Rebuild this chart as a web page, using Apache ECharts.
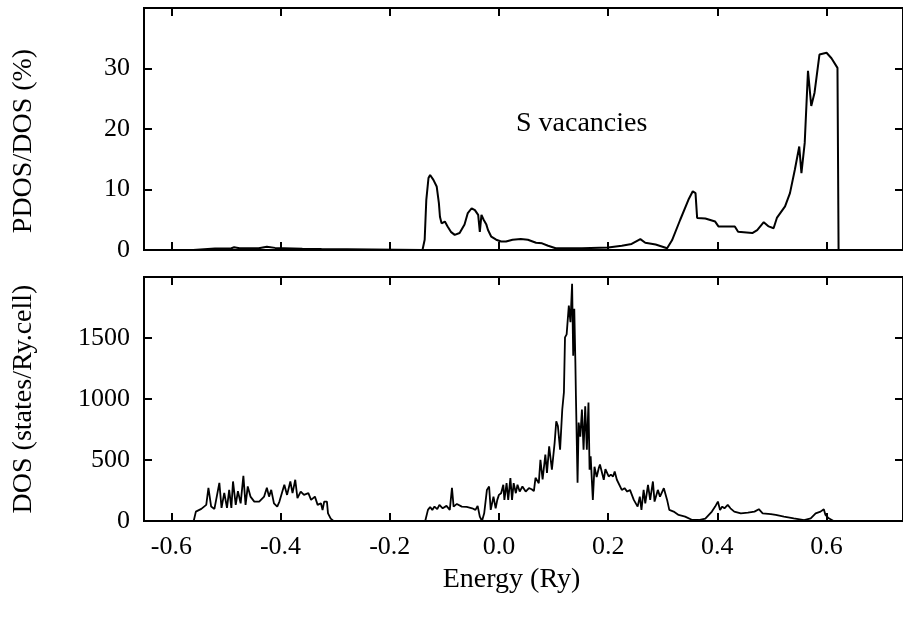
<!DOCTYPE html>
<html>
<head>
<meta charset="utf-8">
<script src="https://cdn.jsdelivr.net/npm/echarts@6/dist/echarts.min.js"></script>
<style>
  html, body { margin: 0; padding: 0; background: #fff; }
  #box { width: 903px; height: 617px; }
</style>
</head>
<body>
<div id="box"></div>
<script>
// energy ticks (Ry)
const xTicks = [-0.6, -0.4, -0.2, 0.0, 0.2, 0.4, 0.6];

// upper panel: PDOS/DOS (%) for S vacancies
const pdosE = [-0.65, -0.56, -0.557, -0.52, -0.49, -0.485, -0.475, -0.44, -0.425, -0.41, -0.36, -0.325, -0.322,
  -0.14, -0.136, -0.133, -0.129, -0.126, -0.12, -0.114, -0.11, -0.108, -0.105, -0.099, -0.094, -0.088, -0.081,
  -0.072, -0.063, -0.057, -0.05, -0.044, -0.038, -0.035, -0.032, -0.028, -0.023, -0.02, -0.014, -0.005, 0.004,
  0.013, 0.025, 0.04, 0.053, 0.068, 0.079, 0.09, 0.104, 0.152, 0.2, 0.225, 0.243, 0.259, 0.268, 0.287, 0.308,
  0.317, 0.332, 0.347, 0.355, 0.36, 0.363, 0.378, 0.396, 0.402, 0.432, 0.438, 0.464, 0.473, 0.485, 0.494, 0.503,
  0.509, 0.524, 0.533, 0.542, 0.55, 0.554, 0.56, 0.566, 0.572, 0.578, 0.587, 0.6, 0.609, 0.62, 0.622, 0.74];
const pdosV = [0, 0, 0.2, 0.25, 0.3, 0.45, 0.3, 0.3, 0.55, 0.35, 0.2, 0.15, 0,
  0, 1.7, 8.3, 11.9, 12.4, 11.6, 10.5, 7.8, 5.5, 4.4, 4.7, 3.9, 3.0, 2.5,
  2.8, 4.2, 6.1, 6.9, 6.6, 5.8, 3.0, 5.8, 5.0, 4.2, 3.3, 2.2, 1.7, 1.4,
  1.4, 1.7, 1.8, 1.7, 1.2, 1.1, 0.7, 0.3, 0.3, 0.4, 0.7, 1.0, 1.8, 1.2, 0.9, 0.3,
  1.6, 5.0, 8.3, 9.7, 9.4, 5.3, 5.2, 4.7, 3.9, 3.9, 3.0, 2.8, 3.3, 4.6, 3.9, 3.6,
  5.3, 7.2, 9.4, 13.3, 17.1, 12.7, 17.7, 29.6, 23.8, 26.0, 32.3, 32.6, 31.7, 30.1, 0, 0];

// lower panel: total DOS (states/Ry.cell)
const dosE = [-0.65, -0.559, -0.555, -0.545, -0.536, -0.532, -0.527, -0.521, -0.512, -0.508, -0.503, -0.498,
  -0.494, -0.49, -0.487, -0.482, -0.478, -0.473, -0.468, -0.464, -0.46, -0.455, -0.448, -0.439, -0.43, -0.425,
  -0.421, -0.417, -0.412, -0.406, -0.402, -0.393, -0.388, -0.382, -0.378, -0.373, -0.369, -0.363, -0.357,
  -0.349, -0.344, -0.337, -0.332, -0.326, -0.323, -0.32, -0.315, -0.313, -0.308, -0.303,
  -0.135, -0.13, -0.126, -0.122, -0.118, -0.113, -0.109, -0.103, -0.096, -0.09, -0.086, -0.083, -0.077, -0.068,
  -0.059, -0.049, -0.043, -0.039, -0.035, -0.031, -0.027, -0.022, -0.018, -0.015, -0.01, -0.006, -0.003, 0.0,
  0.004, 0.008, 0.01, 0.014, 0.017, 0.021, 0.024, 0.027, 0.031, 0.034, 0.038, 0.043, 0.049, 0.055, 0.06, 0.064,
  0.067, 0.073, 0.076, 0.08, 0.085, 0.088, 0.092, 0.097, 0.102, 0.105, 0.108, 0.112, 0.116, 0.119, 0.121, 0.124,
  0.128, 0.131, 0.134, 0.136, 0.138, 0.14, 0.141, 0.144, 0.146, 0.149, 0.152, 0.155, 0.158, 0.161, 0.164, 0.166,
  0.168, 0.172, 0.175, 0.179, 0.183, 0.185, 0.192, 0.195, 0.201, 0.205, 0.209, 0.212, 0.216, 0.225, 0.23, 0.235,
  0.24, 0.247, 0.254, 0.258, 0.261, 0.265, 0.268, 0.273, 0.277, 0.282, 0.285, 0.291, 0.295, 0.302, 0.308, 0.312,
  0.32, 0.329, 0.341, 0.354, 0.366, 0.378, 0.39, 0.396, 0.401, 0.405, 0.409, 0.413, 0.419, 0.424, 0.431, 0.443,
  0.456, 0.468, 0.476, 0.483, 0.498, 0.507, 0.522, 0.54, 0.559, 0.571, 0.58, 0.589, 0.595, 0.598, 0.604, 0.613, 0.74];
const dosV = [0, 0, 77, 99, 132, 272, 118, 99, 313, 107, 231, 107,
  255, 107, 324, 132, 245, 145, 370, 132, 283, 200, 159, 159, 200, 272,
  200, 255, 145, 118, 159, 297, 214, 324, 228, 338, 187, 241, 214,
  228, 173, 200, 132, 145, 90, 159, 159, 63, 20, 0,
  0, 91, 115, 91, 118, 97, 132, 104, 124, 91, 272, 118, 140, 118,
  115, 104, 91, 124, 36, 0, 63, 255, 283, 91, 200, 104, 173, 214,
  228, 297, 173, 310, 173, 351, 173, 310, 228, 297, 241, 283, 241, 269, 260, 245,
  354, 310, 502, 340, 545, 395, 612, 420, 640, 818, 778, 585, 914, 1054, 1505, 1530,
  1765, 1630, 1944, 1355, 1740, 1300, 1024, 313, 807, 692, 914, 585, 940, 585, 972, 420,
  530, 173, 445, 360, 436, 463, 338, 425, 365, 380, 365, 406, 338, 255, 269, 241,
  255, 173, 118, 200, 91, 255, 145, 297, 173, 324, 159, 255, 200, 269, 173, 91,
  77, 50, 36, 8, 8, 20, 77, 118, 159, 91, 118, 104, 132, 104, 77, 63,
  69, 77, 97, 63, 57, 50, 36, 22, 8, 22, 63, 77, 97, 50, 22, 0, 0];

const serif = 'Liberation Serif';
const pdosData = pdosE.map((e, i) => [e, pdosV[i]]);
const dosData = dosE.map((e, i) => [e, dosV[i]]);

let myeCharts = echarts.init(document.getElementById('box'));

// inward ticks, shared by every axis
const tick = { show: true, inside: true, length: 8, lineStyle: { color: '#000', width: 2 } };

function xAx(grid, pos, labels) {
  return {
    type: 'value', gridIndex: grid, position: pos, min: -0.65, max: 0.74,
    axisLine: { show: false, onZero: false }, splitLine: { show: false },
    axisTick: Object.assign({ customValues: xTicks }, tick),
    axisLabel: {
      show: labels, customValues: xTicks, margin: 13,
      formatter: v => v.toFixed(1),
      color: '#000', fontFamily: serif, fontSize: 26
    }
  };
}

function yAx(grid, pos, max, step, labels) {
  return {
    type: 'value', gridIndex: grid, position: pos, min: 0, max: max, interval: step,
    axisLine: { show: false, onZero: false }, splitLine: { show: false },
    axisTick: tick,
    axisLabel: {
      show: labels, showMaxLabel: false, margin: 14,
      formatter: v => String(v),
      color: '#000', fontFamily: serif, fontSize: 26
    }
  };
}

const option = {
  animation: false,
  backgroundColor: '#fff',
  grid: [
    { left: 144, top: 8, width: 761, height: 242, show: true, borderColor: '#000', borderWidth: 2 },
    { left: 144, top: 277, width: 761, height: 244, show: true, borderColor: '#000', borderWidth: 2 }
  ],
  xAxis: [
    xAx(0, 'bottom', false),
    xAx(0, 'top', false),
    Object.assign(xAx(1, 'bottom', true), {
      name: 'Energy (Ry)', nameLocation: 'middle', nameGap: 45,
      nameTextStyle: { color: '#000', fontFamily: serif, fontSize: 28, padding: [0, 24, 0, 0] }
    }),
    xAx(1, 'top', false)
  ],
  yAxis: [
    Object.assign(yAx(0, 'left', 40, 10, true), {
      name: 'PDOS/DOS (%)', nameLocation: 'middle', nameGap: 106, nameRotate: 90,
      nameTextStyle: { color: '#000', fontFamily: serif, fontSize: 28, padding: [0, 24, 0, 0] }
    }),
    yAx(0, 'right', 40, 10, false),
    Object.assign(yAx(1, 'left', 2000, 500, true), {
      name: 'DOS (states/Ry.cell)', nameLocation: 'middle', nameGap: 106, nameRotate: 90,
      nameTextStyle: { color: '#000', fontFamily: serif, fontSize: 28 }
    }),
    yAx(1, 'right', 2000, 500, false)
  ],
  graphic: [
    {
      type: 'text', left: 516, top: 110,
      style: { text: 'S vacancies', fill: '#000', font: '28px "Liberation Serif"' }
    }
  ],
  series: [
    {
      name: 'PDOS/DOS', type: 'line', xAxisIndex: 0, yAxisIndex: 0,
      data: pdosData, showSymbol: false, symbol: 'none',
      lineStyle: { color: '#000', width: 2 }
    },
    {
      name: 'DOS', type: 'line', xAxisIndex: 2, yAxisIndex: 2,
      data: dosData, showSymbol: false, symbol: 'none',
      lineStyle: { color: '#000', width: 1.8 }
    }
  ]
};
myeCharts.setOption(option);
</script>
</body>
</html>
